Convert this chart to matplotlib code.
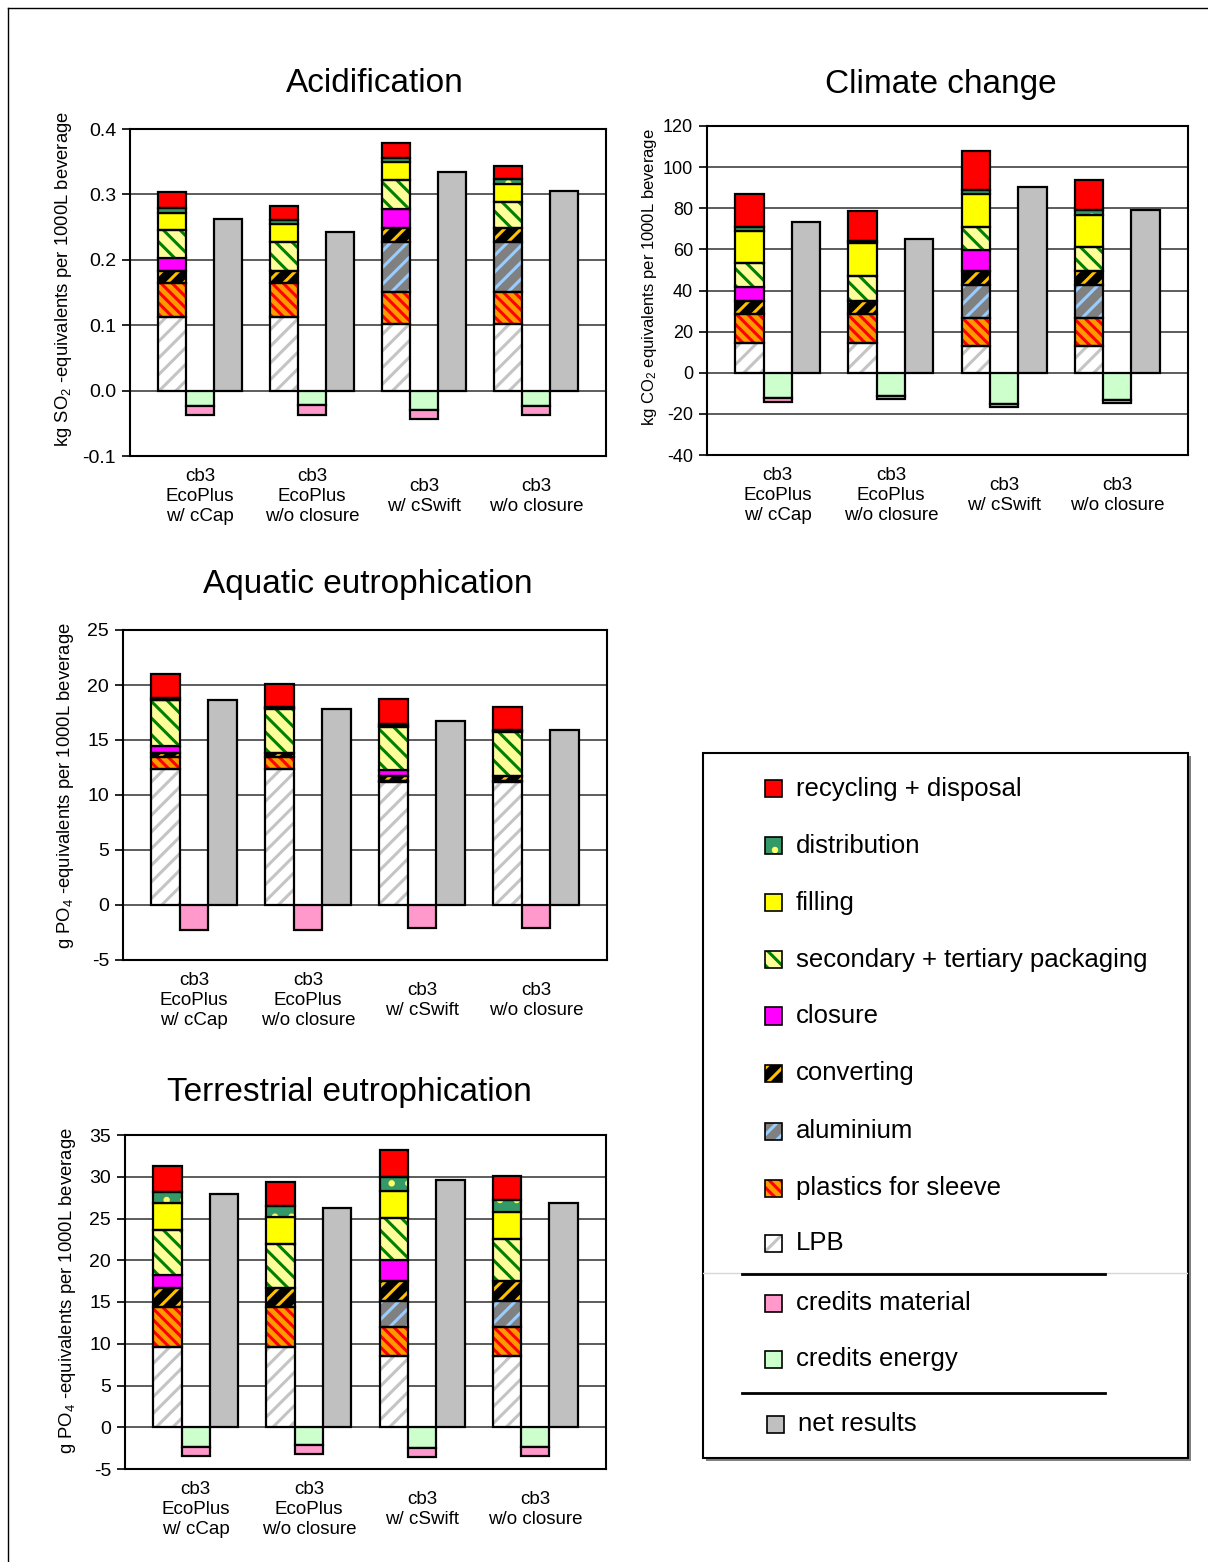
import matplotlib
matplotlib.use("Agg")
from matplotlib import pyplot as plt
from matplotlib.patches import Rectangle
from matplotlib.lines import Line2D
from matplotlib.ticker import FormatStrFormatter, MultipleLocator

plt.rcParams['font.family'] = ['Liberation Sans', 'DejaVu Sans']
plt.rcParams['mathtext.default'] = 'regular'
plt.rcParams['axes.unicode_minus'] = False
plt.rcParams['hatch.linewidth'] = 2.2

# ---- data ----
scenarios = ['cb3\nEcoPlus\nw/ cCap', 'cb3\nEcoPlus\nw/o closure', 'cb3\nw/ cSwift', 'cb3\nw/o closure']

# stacked from bottom to top
components = ['LPB', 'plastics for sleeve', 'aluminium', 'converting', 'closure',
              'secondary + tertiary packaging', 'filling', 'distribution', 'recycling + disposal']

acid_parts = [
    [0.113, 0.113, 0.102, 0.102],   # LPB
    [0.051, 0.051, 0.049, 0.049],   # plastics for sleeve
    [0.0, 0.0, 0.076, 0.076],       # aluminium
    [0.019, 0.019, 0.022, 0.022],   # converting
    [0.020, 0.0, 0.029, 0.0],       # closure
    [0.043, 0.044, 0.044, 0.040],   # secondary + tertiary
    [0.026, 0.027, 0.027, 0.027],   # filling
    [0.007, 0.007, 0.007, 0.007],   # distribution
    [0.024, 0.021, 0.022, 0.020],   # recycling + disposal
]
acid_credits_energy = [-0.024, -0.022, -0.0295, -0.024]
acid_credits_material = [-0.013, -0.015, -0.0135, -0.013]
acid_net = [0.262, 0.243, 0.335, 0.305]

climate_parts = [
    [14.7, 14.7, 13.0, 13.0],
    [14.1, 14.1, 13.4, 13.4],
    [0.0, 0.0, 16.4, 16.4],
    [6.2, 6.2, 6.9, 6.9],
    [6.5, 0.0, 9.9, 0.0],
    [11.9, 12.2, 11.2, 11.4],
    [15.3, 15.8, 16.2, 15.8],
    [2.0, 1.3, 1.9, 2.3],
    [16.3, 14.2, 18.8, 14.4],
]
climate_credits_energy = [-12.2, -11.2, -15.1, -13.2]
climate_credits_material = [-1.8, -1.5, -1.5, -1.5]
climate_net = [73.1, 65.1, 90.4, 79.2]

aquatic_parts = [
    [12.33, 12.33, 11.21, 11.21],
    [1.09, 1.09, 0.05, 0.05],
    [0.0, 0.0, 0.05, 0.05],
    [0.36, 0.42, 0.40, 0.45],
    [0.67, 0.0, 0.60, 0.0],
    [4.18, 3.97, 3.88, 3.94],
    [0.05, 0.08, 0.12, 0.08],
    [0.10, 0.12, 0.15, 0.12],
    [2.18, 2.12, 2.27, 2.12],
]
aquatic_credits_energy = [0.0, 0.0, 0.0, 0.0]
aquatic_credits_material = [-2.27, -2.27, -2.12, -2.12]
aquatic_net = [18.64, 17.85, 16.76, 15.94]

terr_parts = [
    [9.66, 9.66, 8.58, 8.58],
    [4.79, 4.79, 3.39, 3.39],
    [0.0, 0.0, 3.11, 3.11],
    [2.23, 2.23, 2.40, 2.40],
    [1.60, 0.0, 2.55, 0.0],
    [5.34, 5.27, 5.03, 5.07],
    [3.20, 3.19, 3.19, 3.19],
    [1.39, 1.40, 1.75, 1.47],
    [3.11, 2.79, 3.20, 2.84],
]
terr_credits_energy = [-2.39, -2.11, -2.51, -2.39]
terr_credits_material = [-1.00, -1.08, -1.08, -1.00]
terr_net = [27.9, 26.22, 29.61, 26.86]

# face colour, stripe colour, hatch
styles = {
    'LPB': ('white', '#c4c4c4', '//'),
    'plastics for sleeve': ('#ff9900', '#ff0000', '\\\\\\'),
    'aluminium': ('#808080', '#99ccff', '//'),
    'converting': ('black', '#ffc000', '//'),
    'closure': ('#ff00ff', None, None),
    'secondary + tertiary packaging': ('#ffff99', '#008000', '\\\\'),
    'filling': ('#ffff00', None, None),
    'distribution': ('#339966', '#ffff66', '.'),
    'recycling + disposal': ('#ff0000', None, None),
    'credits material': ('#ff99cc', None, None),
    'credits energy': ('#ccffcc', None, None),
    'net results': ('#c0c0c0', None, None),
}

W, H = 1208, 1562
BW = 0.25
fig = plt.figure(figsize=(W / 100, H / 100), dpi=100)


def px_axes(l, t, r, b):
    return fig.add_axes([l / W, 1 - b / H, (r - l) / W, (b - t) / H])


def draw_bar(ax, x, bottom, height, name):
    if height == 0:
        return
    face, stripe, hatch = styles[name]
    if hatch:
        ax.bar(x, height, BW, bottom=bottom, color=face, edgecolor=stripe,
               hatch=hatch, linewidth=0, zorder=2)
        ax.bar(x, height, BW, bottom=bottom, fill=False, edgecolor='black',
               linewidth=1.6, zorder=3)
    else:
        ax.bar(x, height, BW, bottom=bottom, color=face, edgecolor='black',
               linewidth=1.6, zorder=2)


def panel(ax, parts, energy, material, net, ylim, step, fmt, ylabel, ylab_pos,
          tick_fs=14, ylab_fs=13.3):
    for i in range(len(scenarios)):
        bottom = 0.0
        for name, vals in zip(components, parts):
            draw_bar(ax, i - BW, bottom, vals[i], name)
            bottom += vals[i]
        draw_bar(ax, i, 0.0, energy[i], 'credits energy')
        draw_bar(ax, i, energy[i], material[i], 'credits material')
        draw_bar(ax, i + BW, 0.0, net[i], 'net results')

    ax.set_xlim(-0.625, len(scenarios) - 1 + 0.625)
    ax.set_ylim(*ylim)
    ax.yaxis.set_major_locator(MultipleLocator(step))
    ax.yaxis.set_major_formatter(FormatStrFormatter(fmt))
    ax.yaxis.grid(True, color='#303030', linewidth=1.1)
    ax.set_axisbelow(True)
    for s in ax.spines.values():
        s.set_linewidth(1.5)
    ax.tick_params(axis='y', direction='out', length=6, width=1.2, labelsize=tick_fs, pad=4)
    ax.set_xticks(range(len(scenarios)))
    ax.set_xticklabels(scenarios, fontsize=13.5, linespacing=1.25)
    ax.tick_params(axis='x', length=0, pad=29)
    for lab in ax.get_xticklabels():
        lab.set_va('center')
    ax.set_ylabel(ylabel, fontsize=ylab_fs)
    ax.yaxis.set_label_coords(*ylab_pos)


ax1 = px_axes(130, 129, 606, 456)
panel(ax1, acid_parts, acid_credits_energy, acid_credits_material, acid_net,
      (-0.1, 0.4), 0.1, '%.1f', 'kg SO$_2$ -equivalents per 1000L beverage', (-0.118, 0.54))

ax2 = px_axes(707, 126, 1188, 455)
panel(ax2, climate_parts, climate_credits_energy, climate_credits_material, climate_net,
      (-40, 120), 20, '%d', 'kg CO$_2$ equivalents per 1000L beverage', (-0.1, 0.54),
      tick_fs=13, ylab_fs=12)

ax3 = px_axes(123, 630, 607, 960)
panel(ax3, aquatic_parts, aquatic_credits_energy, aquatic_credits_material, aquatic_net,
      (-5, 25), 5, '%d', 'g PO$_4$ -equivalents per 1000L beverage', (-0.097, 0.53))

ax4 = px_axes(125, 1135, 606, 1469)
panel(ax4, terr_parts, terr_credits_energy, terr_credits_material, terr_net,
      (-5, 35), 5, '%d', 'g PO$_4$ -equivalents per 1000L beverage', (-0.098, 0.533))

for txt, x, y in [('Acidification', 375, 84), ('Climate change', 941, 84),
                  ('Aquatic eutrophication', 368, 585), ('Terrestrial eutrophication', 349, 1092)]:
    fig.text(x / W, 1 - y / H, txt, fontsize=24, ha='center', va='center')

# ---- legend box ----
lg = px_axes(703, 753, 1188, 1458)
lg.set_xlim(0, 485)
lg.set_ylim(705, 0)
lg.axis('off')
lg.add_patch(Rectangle((3, 3), 485, 705, facecolor='#808080', edgecolor='none', zorder=0, clip_on=False))
lg.add_patch(Rectangle((0, 0), 485, 705, facecolor='white', edgecolor='black', linewidth=1.5, zorder=1, clip_on=False))
lg.plot([0, 485], [520, 520], color='#d8d8d8', linewidth=1, zorder=2)
lg.plot([39, 402], [521, 521], color='black', linewidth=2, zorder=3)
lg.plot([39, 402], [640, 640], color='black', linewidth=2, zorder=3)

legend_items = ['recycling + disposal', 'distribution', 'filling', 'secondary + tertiary packaging',
                'closure', 'converting', 'aluminium', 'plastics for sleeve', 'LPB',
                'credits material', 'credits energy', 'net results']
legend_y = [36, 93, 150, 207, 263, 320, 378, 435, 490, 550, 606, 671]
for name, yc in zip(legend_items, legend_y):
    face, stripe, hatch = styles[name]
    x0 = 64 if name == 'net results' else 62
    if hatch:
        lg.add_patch(Rectangle((x0, yc - 8.5), 17, 17, facecolor=face, edgecolor=stripe,
                               hatch=hatch, linewidth=0, zorder=4))
    lg.add_patch(Rectangle((x0, yc - 8.5), 17, 17, facecolor=face if not hatch else 'none',
                           edgecolor='black', linewidth=1.2, zorder=5))
    lg.text(x0 + 31, yc, name, fontsize=18.5, va='center', ha='left', zorder=5)

# outer frame lines
fig.add_artist(Line2D([8 / W, 8 / W], [0, 1 - 8 / H], transform=fig.transFigure, color='black', linewidth=1))
fig.add_artist(Line2D([8 / W, 1], [1 - 8 / H, 1 - 8 / H], transform=fig.transFigure, color='black', linewidth=1))

fig.savefig('out.png', dpi=100)
